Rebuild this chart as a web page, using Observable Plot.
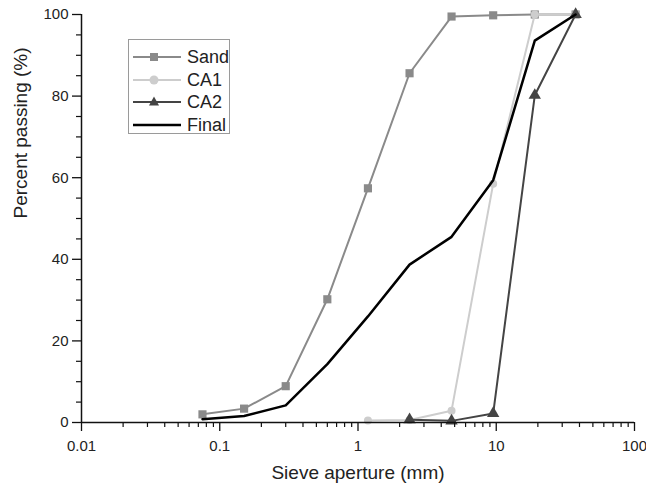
<!DOCTYPE html>
<html><head><meta charset="utf-8">
<script src="https://cdn.jsdelivr.net/npm/d3@7"></script>
<script src="https://cdn.jsdelivr.net/npm/@observablehq/plot@0.6"></script>
<style>
body{margin:0;background:#fff;}
#wrap{position:relative;width:646px;height:488px;font-family:"Liberation Sans",Arial,sans-serif;}
#legend{position:absolute;left:128px;top:39px;width:102px;height:95px;border:1px solid #9a9a9a;background:#fff;box-sizing:border-box;}
#legend .row{position:absolute;left:0;height:22px;display:flex;align-items:center;}
#legend .row span{font-size:18px;color:#222;margin-left:4px;line-height:22px;}
</style>
</head><body><div id="wrap"><div id="chart"></div><div id="legend"></div></div>
<script>
const sieve = [0.075, 0.15, 0.3, 0.6, 1.18, 2.36, 4.75, 9.5, 19, 37.5];
const sand = [2.0, 3.4, 8.9, 30.2, 57.4, 85.6, 99.5, 99.8, 100, 100];
const ca1Sieve = [1.18, 2.36, 4.75, 9.5, 19, 37.5];
const ca1 = [0.5, 0.6, 2.9, 58.5, 100, 100];
const ca2Sieve = [2.36, 4.75, 9.5, 19, 37.5];
const ca2 = [0.7, 0.4, 2.2, 80.2, 100];
const finalV = [0.8, 1.6, 4.2, 14.3, 26, 38.7, 45.5, 59.4, 93.6, 100];
const seriesNames = ["Sand", "CA1", "CA2", "Final"];
const seriesColors = ["#8a8a8a", "#cdcdcd", "#444444", "#000000"];
const seriesSymbols = ["square", "circle", "triangle", null];
const xTicks = [0.01, 0.1, 1, 10, 100];
const xTickLabels = ["0.01", "0.1", "1", "10", "100"];
const yTicks = [0, 20, 40, 60, 80, 100];
const xLabel = "Sieve aperture (mm)";
const yLabel = "Percent passing (%)";

const mk = (xs, ys) => xs.map((x, i) => ({x, y: ys[i]}));
const data = [mk(sieve, sand), mk(ca1Sieve, ca1), mk(ca2Sieve, ca2), mk(sieve, finalV)];

const xMinor = [];
for (let d = 0; d < 4; d++) for (let m = 2; m <= 9; m++) xMinor.push(m * xTicks[d]);
const yMinor = d3.range(0, 101, 5).filter(v => v % 20 !== 0);

const marks = [];
data.forEach((d, i) => {
  marks.push(Plot.line(d, {x: "x", y: "y", stroke: seriesColors[i], strokeWidth: i === 3 ? 2.5 : 2}));
  if (seriesSymbols[i]) marks.push(Plot.dot(d, {x: "x", y: "y", symbol: seriesSymbols[i], fill: seriesColors[i], stroke: "none", r: seriesSymbols[i] === "circle" ? 4 : 4.6}));
});

const chart = Plot.plot({
  width: 646, height: 488,
  marginLeft: 81, marginRight: 12, marginTop: 14, marginBottom: 66,
  style: {fontFamily: '"Liberation Sans", Arial, sans-serif', color: "#222", background: "#fff"},
  x: {type: "log", domain: [0.01, 100], axis: null},
  y: {domain: [0, 100], axis: null},
  marks: [
    ...marks,
    Plot.axisX(xMinor, {tickSize: 5, text: null, label: null, stroke: "#111", strokeWidth: 1.2}),
    Plot.axisX(xTicks, {tickSize: 9, tickPadding: 9, label: null, stroke: "#111", strokeWidth: 1.3, fontSize: 15, tickFormat: d => xTickLabels[xTicks.indexOf(d)]}),
    Plot.axisY(yMinor, {tickSize: 5, text: null, label: null, stroke: "#111", strokeWidth: 1.2}),
    Plot.axisY(yTicks, {tickSize: 9, tickPadding: 4, label: null, stroke: "#111", strokeWidth: 1.3, fontSize: 15}),
    Plot.ruleX([0.01], {stroke: "#111", strokeWidth: 1.5}),
    Plot.ruleY([0], {stroke: "#111", strokeWidth: 1.5}),
    Plot.text([xLabel], {frameAnchor: "bottom", dy: 56, fontSize: 19, fill: "#222"}),
    Plot.text([yLabel], {frameAnchor: "left", dx: -61, rotate: -90, fontSize: 19, fill: "#222"})
  ]
});
document.getElementById("chart").appendChild(chart);

const legend = document.getElementById("legend");
seriesNames.forEach((name, i) => {
  const row = document.createElement("div");
  row.className = "row";
  row.style.top = (6 + i * 22.7) + "px";
  const col = seriesColors[i];
  let sym = "";
  if (seriesSymbols[i] === "square") sym = `<rect x="19" y="7" width="8" height="8" fill="${col}"/>`;
  if (seriesSymbols[i] === "circle") sym = `<circle cx="23" cy="11" r="4.5" fill="${col}"/>`;
  if (seriesSymbols[i] === "triangle") sym = `<path d="M23,5.5 L28,14.5 L18,14.5 Z" fill="${col}"/>`;
  row.innerHTML = `<svg width="52" height="22" style="margin-left:2px"><line x1="2" x2="50" y1="11" y2="11" stroke="${col}" stroke-width="${i===3?2.6:2.2}"/>${sym}</svg><span>${name}</span>`;
  legend.appendChild(row);
});
</script>
</body></html>
